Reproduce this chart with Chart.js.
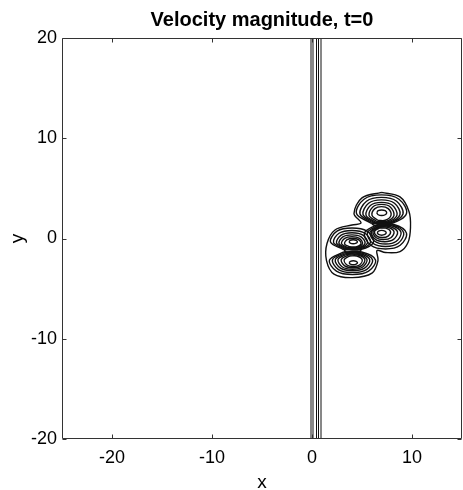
<!DOCTYPE html>
<html>
<head>
<meta charset="utf-8">
<title>Velocity magnitude</title>
<script src="https://cdn.jsdelivr.net/npm/chart.js@4.4.0/dist/chart.umd.min.js"></script>
<style>
  html, body { margin: 0; padding: 0; background: #fff; }
</style>
</head>
<body>
<canvas id="myChart" width="463" height="490"></canvas>
<script>
// axis limits and tick values
const xRange = [-25, 15];
const yRange = [-20, 20];
const xTickValues = [-20, -10, 0, 10];
const yTickValues = [-20, -10, 0, 10, 20];

// straight contours of the shear layer near x=0
const shearLayerX = [-0.1, 0.1, 0.45, 0.65, 0.9];

// closed contours as [x0,y0, x1,y1, ...]
const outerContour = [6.95,4.6, 8.8,4.15, 9.7,2.7, 9.85,1.1, 9.6,-0.4, 8.8,-1.3, 7.35,-1.4, 6.5,-1.2,
  6.6,-2.2, 6.0,-3.45, 4.05,-3.9, 2.2,-3.55, 1.45,-2.2, 1.5,-0.5, 2.3,0.85, 4.0,1.35, 4.9,1.55,
  4.2,2.5, 5.0,4.05];

// upper-right dipole, lobe above the core
const upperNorth = [
  [5.95,1.5, 4.45,2.5, 5.2,3.92, 6.95,4.35, 8.7,3.92, 9.45,2.5, 7.95,1.5],
  [6.09,1.55, 4.8,2.44, 5.45,3.72, 6.95,4.1, 8.46,3.72, 9.1,2.44, 7.81,1.55],
  [6.21,1.6, 5.1,2.39, 5.66,3.51, 6.95,3.85, 8.25,3.51, 8.8,2.39, 7.69,1.6],
  [6.33,1.65, 5.4,2.33, 5.87,3.31, 6.95,3.6, 8.04,3.31, 8.5,2.33, 7.57,1.65],
  [6.45,1.72, 5.7,2.31, 6.08,3.15, 6.95,3.4, 7.83,3.15, 8.2,2.31, 7.45,1.72],
  [6.57,1.82, 6.0,2.3, 6.29,2.98, 6.95,3.18, 7.62,2.98, 7.9,2.3, 7.33,1.82],
  [6.47,2.57, 6.62,2.77, 6.97,2.85, 7.32,2.77, 7.47,2.57, 7.32,2.37, 6.97,2.29, 6.62,2.37]
];
// upper-right dipole, lobe below the core
const upperSouth = [
  [6.51,1.4, 5.25,0.54, 5.88,-0.68, 7.35,-1.05, 8.82,-0.68, 9.45,0.54, 8.19,1.4],
  [6.62,1.33, 5.53,0.58, 6.08,-0.48, 7.35,-0.8, 8.62,-0.48, 9.17,0.58, 8.08,1.33],
  [6.73,1.27, 5.8,0.63, 6.27,-0.28, 7.35,-0.55, 8.44,-0.28, 8.9,0.63, 7.97,1.27],
  [6.73,1.2, 5.95,0.67, 6.34,-0.09, 7.25,-0.32, 8.16,-0.09, 8.55,0.67, 7.77,1.2],
  [6.73,1.12, 6.1,0.69, 6.42,0.08, 7.15,-0.1, 7.89,0.08, 8.2,0.69, 7.57,1.12],
  [6.73,1.03, 6.25,0.7, 6.49,0.24, 7.05,0.1, 7.61,0.24, 7.85,0.7, 7.37,1.03],
  [6.52,0.57, 6.65,0.74, 6.97,0.81, 7.29,0.74, 7.42,0.57, 7.29,0.4, 6.97,0.33, 6.65,0.4]
];
// lower-left dipole, lobe above the core
const lowerNorth = [
  [3.14,-1.1, 1.85,-0.35, 2.5,0.73, 4.0,1.05, 5.5,0.73, 6.15,-0.35, 4.86,-1.1],
  [3.26,-1.05, 2.15,-0.4, 2.7,0.52, 4.0,0.8, 5.3,0.52, 5.85,-0.4, 4.74,-1.05],
  [3.38,-1.0, 2.45,-0.45, 2.92,0.33, 4.0,0.57, 5.09,0.33, 5.55,-0.45, 4.62,-1.0],
  [3.48,-0.95, 2.7,-0.49, 3.09,0.16, 4.0,0.36, 4.91,0.16, 5.3,-0.49, 4.52,-0.95],
  [3.58,-0.9, 2.95,-0.53, 3.27,0.01, 4.0,0.17, 4.74,0.01, 5.05,-0.53, 4.42,-0.9],
  [3.75,-0.83, 3.26,-0.54, 3.51,-0.12, 4.08,0.0, 4.65,-0.12, 4.9,-0.54, 4.41,-0.83],
  [3.7,-0.32, 3.82,-0.18, 4.12,-0.12, 4.42,-0.18, 4.54,-0.32, 4.42,-0.46, 4.12,-0.52, 3.82,-0.46]
];
// lower-left dipole, lobe below the core
const lowerSouth = [
  [3.13,-1.35, 1.75,-2.14, 2.44,-3.26, 4.05,-3.6, 5.66,-3.26, 6.35,-2.14, 4.97,-1.35],
  [3.25,-1.42, 2.05,-2.11, 2.65,-3.1, 4.05,-3.4, 5.45,-3.1, 6.05,-2.11, 4.85,-1.42],
  [3.36,-1.5, 2.33,-2.1, 2.85,-2.96, 4.05,-3.22, 5.25,-2.96, 5.77,-2.1, 4.74,-1.5],
  [3.47,-1.57, 2.6,-2.09, 3.04,-2.84, 4.05,-3.06, 5.07,-2.84, 5.5,-2.09, 4.63,-1.57],
  [3.63,-1.65, 2.92,-2.09, 3.27,-2.73, 4.1,-2.92, 4.93,-2.73, 5.28,-2.09, 4.57,-1.65],
  [3.76,-1.75, 3.22,-2.12, 3.49,-2.64, 4.12,-2.8, 4.75,-2.64, 5.02,-2.12, 4.48,-1.75],
  [3.71,-2.42, 3.84,-2.28, 4.13,-2.22, 4.42,-2.28, 4.55,-2.42, 4.42,-2.56, 4.13,-2.62, 3.84,-2.56]
];
// tightly packed contours in the two dark cores
const coreContours = [
  [6.0,1.45, 6.28,1.6, 6.95,1.67, 7.62,1.6, 7.9,1.45, 7.62,1.3, 6.95,1.23, 6.28,1.3],
  [3.2,-1.22, 3.45,-1.08, 4.05,-1.02, 4.65,-1.08, 4.9,-1.22, 4.65,-1.36, 4.05,-1.42, 3.45,-1.36]
];

const FONT = "'Liberation Sans', Arial, Helvetica, sans-serif";

function ring(flat) {
  var pts = [];
  for (var i = 0; i < flat.length; i += 2) pts.push({x: flat[i], y: flat[i + 1]});
  pts.push({x: flat[0], y: flat[1]});
  return pts;
}

var datasets = [];
shearLayerX.forEach(function(v) {
  datasets.push({
    data: [{x: v, y: yRange[0]}, {x: v, y: yRange[1]}],
    showLine: true, borderColor: '#111', borderWidth: 1, pointRadius: 0, tension: 0
  });
});
[[outerContour], upperNorth, upperSouth, lowerNorth, lowerSouth, coreContours].forEach(function(group) {
  group.forEach(function(flat) {
    datasets.push({
      data: ring(flat),
      showLine: true, borderColor: '#111', borderWidth: 1.4, pointRadius: 0, tension: 0.35
    });
  });
});

// matlab style box with inward ticks on all four sides
var frameTicks = {
  id: 'frameTicks',
  afterDraw: function(chart) {
    var ctx = chart.ctx, a = chart.chartArea, sx = chart.scales.x, sy = chart.scales.y;
    var L = Math.round(a.left) + 0.5, R = Math.round(a.right) - 0.5;
    var T = Math.round(a.top) + 0.5, B = Math.round(a.bottom) - 0.5;
    ctx.save();
    ctx.strokeStyle = '#333';
    ctx.lineWidth = 1;
    ctx.beginPath();
    ctx.rect(L, T, R - L, B - T);
    xTickValues.forEach(function(v) {
      var p = Math.round(sx.getPixelForValue(v)) + 0.5;
      ctx.moveTo(p, B); ctx.lineTo(p, B - 4);
      ctx.moveTo(p, T); ctx.lineTo(p, T + 4);
    });
    yTickValues.forEach(function(v) {
      var p = Math.round(sy.getPixelForValue(v)) + 0.5;
      ctx.moveTo(L, p); ctx.lineTo(L + 4, p);
      ctx.moveTo(R, p); ctx.lineTo(R - 4, p);
    });
    ctx.stroke();
    ctx.restore();
  }
};

new Chart(document.getElementById('myChart'), {
  type: 'scatter',
  data: { datasets: datasets },
  options: {
    responsive: false,
    animation: false,
    events: [],
    layout: { padding: { top: 0, right: 1, bottom: 0, left: 0 } },
    plugins: {
      legend: { display: false },
      tooltip: { enabled: false },
      title: {
        display: true,
        fullSize: false,
        text: 'Velocity magnitude, t=0',
        color: '#000',
        font: { family: FONT, size: 20, weight: 'bold', lineHeight: 1.2 },
        padding: { top: 8, bottom: 6 }
      }
    },
    scales: {
      x: {
        type: 'linear',
        min: xRange[0], max: xRange[1],
        afterBuildTicks: function(s) { s.ticks = xTickValues.map(function(v) { return {value: v}; }); },
        afterFit: function(s) { s.height = 51; },
        grid: { display: false, drawTicks: false },
        border: { display: false },
        ticks: { color: '#000', padding: 8, maxRotation: 0, font: { family: FONT, size: 18 } },
        title: { display: true, text: 'x', color: '#000', padding: { top: 0, bottom: 0 },
                 font: { family: FONT, size: 19, lineHeight: 0.8 } }
      },
      y: {
        type: 'linear',
        min: yRange[0], max: yRange[1],
        afterBuildTicks: function(s) { s.ticks = yTickValues.map(function(v) { return {value: v}; }); },
        afterFit: function(s) { s.width = 62; },
        grid: { display: false, drawTicks: false },
        border: { display: false },
        ticks: { color: '#000', padding: 5, font: { family: FONT, size: 18 } },
        title: { display: true, text: 'y', color: '#000', padding: { top: 8, bottom: 0 },
                 font: { family: FONT, size: 19, lineHeight: 1 } }
      }
    }
  },
  plugins: [frameTicks]
});
</script>
</body>
</html>
